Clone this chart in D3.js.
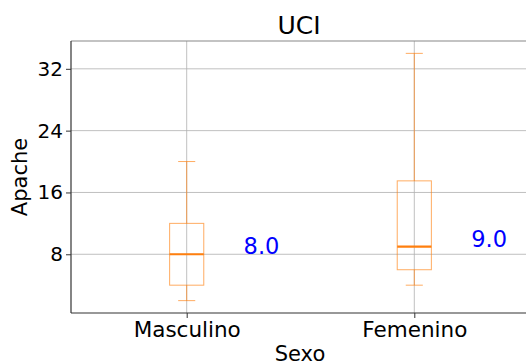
<!DOCTYPE html>
<html>
<head>
<meta charset="utf-8">
<script src="https://cdn.jsdelivr.net/npm/d3@7"></script>
<style>
  body { margin: 0; background: #fff; }
  text { font-family: "DejaVu Sans", sans-serif; }
</style>
</head>
<body>
<div id="container"></div>
<script>
/* DATA */
const groups = ["Masculino", "Femenino"];
const whiskerLow = [2, 4];
const q1 = [4, 6];
const medians = [8, 9];
const q3 = [12, 17.5];
const whiskerHigh = [20, 34];
const yTicks = [8, 16, 24, 32];

/* CONSTANTS */
const width = 526, height = 363,
  margin = { top: 41, bottom: 50, left: 71, right: 0 };
const orange = "#ff7f0e";

const boxes = groups.map((g, i) => ({
  group: g, pos: i + 1,
  lo: whiskerLow[i], q1: q1[i], med: medians[i], q3: q3[i], hi: whiskerHigh[i]
}));

/* SCALES */
const xScale = d3.scaleLinear()
  .domain([0.5, 2.5])
  .range([72.9, 528.1]);

const yScale = d3.scaleLinear()
  .domain([0.4, 35.6])
  .range([height - margin.bottom, margin.top]);

const svg = d3.select("#container")
  .append("svg")
  .attr("width", width)
  .attr("height", height);

const bottomY = height - margin.bottom;

// grid
svg.append("g").selectAll("line")
  .data(yTicks)
  .join("line")
  .attr("x1", margin.left).attr("x2", width)
  .attr("y1", d => yScale(d)).attr("y2", d => yScale(d))
  .attr("stroke", "#b0b0b0").attr("stroke-width", 0.8);

svg.append("g").selectAll("line")
  .data(boxes)
  .join("line")
  .attr("x1", d => xScale(d.pos)).attr("x2", d => xScale(d.pos))
  .attr("y1", margin.top).attr("y2", bottomY)
  .attr("stroke", "#b0b0b0").attr("stroke-width", 0.8);

// axes
const yAxis = d3.axisLeft(yScale)
  .tickValues(yTicks)
  .tickSize(5)
  .tickPadding(3);
const gy = svg.append("g")
  .attr("transform", `translate(${margin.left},0)`)
  .call(yAxis);
gy.select(".domain").remove();
gy.selectAll(".tick line").attr("stroke", "#333");
gy.selectAll(".tick text")
  .attr("font-size", 20)
  .attr("fill", "#000")
  .attr("font-family", "DejaVu Sans");

const xAxis = d3.axisBottom(xScale)
  .tickValues([1, 2])
  .tickFormat((d, i) => groups[i])
  .tickSize(5)
  .tickPadding(4);
const gx = svg.append("g")
  .attr("transform", `translate(0,${bottomY})`)
  .call(xAxis);
gx.select(".domain").remove();
gx.selectAll(".tick line").attr("stroke", "#333");
gx.selectAll(".tick text")
  .attr("font-size", 21.5)
  .attr("fill", "#000")
  .attr("font-family", "DejaVu Sans");

// spines
svg.append("line")
  .attr("x1", margin.left).attr("x2", width)
  .attr("y1", margin.top).attr("y2", margin.top)
  .attr("stroke", "#888").attr("stroke-width", 1.2);
svg.append("line")
  .attr("x1", margin.left).attr("x2", width)
  .attr("y1", bottomY).attr("y2", bottomY)
  .attr("stroke", "#333").attr("stroke-width", 1.2);
svg.append("line")
  .attr("x1", margin.left).attr("x2", margin.left)
  .attr("y1", margin.top).attr("y2", bottomY)
  .attr("stroke", "#333").attr("stroke-width", 1.2);

// boxes
const boxW = 0.15, capW = 0.075;
const bg = svg.append("g").selectAll("g")
  .data(boxes)
  .join("g");

bg.append("line")
  .attr("x1", d => xScale(d.pos)).attr("x2", d => xScale(d.pos))
  .attr("y1", d => yScale(d.lo)).attr("y2", d => yScale(d.q1))
  .attr("stroke", orange).attr("stroke-opacity", 0.65);
bg.append("line")
  .attr("x1", d => xScale(d.pos)).attr("x2", d => xScale(d.pos))
  .attr("y1", d => yScale(d.q3)).attr("y2", d => yScale(d.hi))
  .attr("stroke", orange).attr("stroke-opacity", 0.65);
bg.append("line")
  .attr("x1", d => xScale(d.pos - capW / 2)).attr("x2", d => xScale(d.pos + capW / 2))
  .attr("y1", d => yScale(d.lo)).attr("y2", d => yScale(d.lo))
  .attr("stroke", orange).attr("stroke-opacity", 0.65);
bg.append("line")
  .attr("x1", d => xScale(d.pos - capW / 2)).attr("x2", d => xScale(d.pos + capW / 2))
  .attr("y1", d => yScale(d.hi)).attr("y2", d => yScale(d.hi))
  .attr("stroke", orange).attr("stroke-opacity", 0.65);
bg.append("rect")
  .attr("x", d => xScale(d.pos - boxW / 2))
  .attr("width", d => xScale(d.pos + boxW / 2) - xScale(d.pos - boxW / 2))
  .attr("y", d => yScale(d.q3))
  .attr("height", d => yScale(d.q1) - yScale(d.q3))
  .attr("fill", "none")
  .attr("stroke", orange).attr("stroke-opacity", 0.65);
bg.append("line")
  .attr("x1", d => xScale(d.pos - boxW / 2)).attr("x2", d => xScale(d.pos + boxW / 2))
  .attr("y1", d => yScale(d.med)).attr("y2", d => yScale(d.med))
  .attr("stroke", orange).attr("stroke-width", 2.2);

// median labels
bg.append("text")
  .attr("x", d => xScale(d.pos + 0.25))
  .attr("y", d => yScale(d.med))
  .attr("font-size", 22.5)
  .attr("fill", "blue")
  .text(d => d.med.toFixed(1));

// title and labels
svg.append("text")
  .attr("x", 299).attr("y", 34)
  .attr("text-anchor", "middle")
  .attr("font-size", 25)
  .attr("fill", "#000")
  .text("UCI");

svg.append("text")
  .attr("x", 300).attr("y", 361)
  .attr("text-anchor", "middle")
  .attr("font-size", 21)
  .attr("fill", "#000")
  .text("Sexo");

svg.append("text")
  .attr("transform", "translate(27,177) rotate(-90)")
  .attr("text-anchor", "middle")
  .attr("font-size", 21)
  .attr("fill", "#000")
  .text("Apache");
</script>
</body>
</html>
